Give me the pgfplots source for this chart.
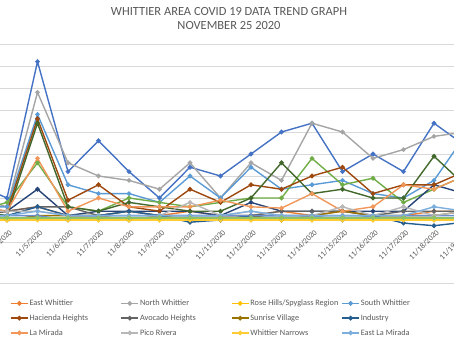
\documentclass[border=0pt]{standalone}
\usepackage{pgfplots}
\pgfplotsset{compat=1.18}
\usepackage{pgfplotstable}
\usepackage{fontspec}
\setmainfont{Carlito}
\definecolor{cA}{HTML}{4472C4}
\definecolor{cEW}{HTML}{ED7D31}
\definecolor{cNW}{HTML}{A5A5A5}
\definecolor{cRH}{HTML}{FFC000}
\definecolor{cSW}{HTML}{5B9BD5}
\definecolor{cG}{HTML}{70AD47}
\definecolor{cNV}{HTML}{264478}
\definecolor{cHH}{HTML}{9E480E}
\definecolor{cAH}{HTML}{636363}
\definecolor{cSV}{HTML}{997300}
\definecolor{cIN}{HTML}{255E91}
\definecolor{cDG}{HTML}{43682B}
\definecolor{cS13}{HTML}{698ED0}
\definecolor{cLM}{HTML}{F1975A}
\definecolor{cPR}{HTML}{B7B7B7}
\definecolor{cWN}{HTML}{FFCD33}
\definecolor{cELM}{HTML}{7CAFDD}
\definecolor{cS18}{HTML}{8CC168}
\definecolor{gridc}{HTML}{D9D9D9}
\definecolor{txt}{HTML}{595959}

\pgfplotstableread{
d  s1 s2 s3 s4  s5 s6  s7 s8  s9 s10 s11  s12  s13 s14 s15 s16 s17 s18
3  8  1  5  0   3  2   1  3   1  1   1    2    1   3   2   0   1   0.5
4  5  2  3  0   3  4   2  2   2  0   1    1    1   2   2   0   1   0.5
5  36 3  29 0.5 24 13  7  23  3  1   3    22   1   14  2   0   2   0.5
6  11 1  13 0   8  3   1  4.5 3  1   1    3    0   2   1   0   1   0.5
7  18 1  10 0   6  2   2  8   1  1   1    2    1   5   1   0   1   0.5
8  11 2  9  0   6  5   2  3   2  0   2    4    1   3   1   0   1   0.5
9  5  1  7  0   4  4   2  2   1  1   1    3    1   3   1   0   1   0.5
10 12 2  13 0   10 3   2  7   1  0   -0.5 2    1   3   4   0   1   0.5
11 10 1  5  0.5 5  4   1  4   1  0   0    2    1   4.5 1   0   1   0.5
12 15 1  13 0   12 5   4  8   1  1   1    5    1   3   2   0   2   0.5
13 20 2  9  0   7  5   2  7   2  0   1    13   1   2.7 1   0   1   0.5
14 22 1  22 0   8  14  2  10  2  1   1    6    1   6   1   0   1   0.5
15 11 2  20 0   9  8   2  12  2  2   1    7    0   2   3   0   1   0.5
16 15 1  14 0   6  9.5 2  6   1  1   1    5    1   3   1   0   1   0.5
17 11 1  16 0   5  4   2  8   2  1   -0.7 5    1   8   3   0   1   0.5
18 22 2  19 0   9  7   8  8   2  1   -1.3 14.5 1   7   1   0   3   0.5
19 17 2  20 0.5 19 10  6  11  2  2   -0.5 8    1   10  2   0   2   0.5
}\data

\pgfplotsset{ser/.style={line width=1.4bp, mark=*, mark size=1.6bp, mark options={solid}}}

\begin{document}
\begin{tikzpicture}
\begin{axis}[
  at={(-38.75bp,99bp)}, anchor=south west,
  scale only axis, width=518.5bp, height=198bp,
  xmin=2.5, xmax=19.5, ymin=-5, ymax=40,
  ytick={-5,0,...,40}, yticklabels={},
  ymajorgrids, grid style={color=gridc, line width=0.75bp},
  axis line style={draw=none}, tick style={draw=none},
  xtick={3,...,19},
  xticklabels={11/3/2020,11/4/2020,11/5/2020,11/6/2020,11/7/2020,11/8/2020,11/9/2020,11/10/2020,11/11/2020,11/12/2020,11/13/2020,11/14/2020,11/15/2020,11/16/2020,11/17/2020,11/18/2020,11/19/2020},
  xticklabel style={yshift=13bp, xshift=1.5bp, rotate=45, anchor=north east, inner sep=0pt, font=\fontsize{8}{9}\selectfont, text=txt},
  legend columns=4,
  legend style={at={(0.094,-0.286)}, anchor=north west, draw=none, fill=none,
    font=\fontsize{8.3}{9}\selectfont, text=txt, inner sep=0pt, column sep=0pt, row sep=5.5bp,
    nodes={inner sep=1bp}},
  legend cell align=left,
]
\addplot[ser, color=cA, forget plot] table[x=d, y=s1] {\data};
\addplot[ser, color=cEW, forget plot] table[x=d, y=s2] {\data};
\addplot[ser, color=cNW, forget plot] table[x=d, y=s3] {\data};
\addplot[ser, color=cRH, forget plot] table[x=d, y=s4] {\data};
\addplot[ser, color=cSW, forget plot] table[x=d, y=s5] {\data};
\addplot[ser, color=cG, forget plot] table[x=d, y=s6] {\data};
\addplot[ser, color=cNV, forget plot] table[x=d, y=s7] {\data};
\addplot[ser, color=cHH, forget plot] table[x=d, y=s8] {\data};
\addplot[ser, color=cAH, forget plot] table[x=d, y=s9] {\data};
\addplot[ser, color=cSV, forget plot] table[x=d, y=s10] {\data};
\addplot[ser, color=cIN, forget plot] table[x=d, y=s11] {\data};
\addplot[ser, color=cDG, forget plot] table[x=d, y=s12] {\data};
\addplot[ser, color=cS13, forget plot] table[x=d, y=s13] {\data};
\addplot[ser, color=cLM, forget plot] table[x=d, y=s14] {\data};
\addplot[ser, color=cPR, forget plot] table[x=d, y=s15] {\data};
\addplot[ser, color=cWN, forget plot] table[x=d, y=s16] {\data};
\addplot[ser, color=cELM, forget plot] table[x=d, y=s17] {\data};
\addplot[ser, color=cS18, forget plot] table[x=d, y=s18] {\data};

\addlegendimage{ser, color=cEW}\addlegendentry{\makebox[90bp][l]{East Whittier}}
\addlegendimage{ser, color=cNW}\addlegendentry{\makebox[90bp][l]{North Whittier}}
\addlegendimage{ser, color=cRH}\addlegendentry{\makebox[90bp][l]{Rose Hills/Spyglass Region}}
\addlegendimage{ser, color=cSW}\addlegendentry{\makebox[90bp][l]{South Whittier}}
\addlegendimage{ser, color=cHH}\addlegendentry{\makebox[90bp][l]{Hacienda Heights}}
\addlegendimage{ser, color=cAH}\addlegendentry{\makebox[90bp][l]{Avocado Heights}}
\addlegendimage{ser, color=cSV}\addlegendentry{\makebox[90bp][l]{Sunrise Village}}
\addlegendimage{ser, color=cIN}\addlegendentry{\makebox[90bp][l]{Industry}}
\addlegendimage{ser, color=cLM}\addlegendentry{\makebox[90bp][l]{La Mirada}}
\addlegendimage{ser, color=cPR}\addlegendentry{\makebox[90bp][l]{Pico Rivera}}
\addlegendimage{ser, color=cWN}\addlegendentry{\makebox[90bp][l]{Whittier Narrows}}
\addlegendimage{ser, color=cELM}\addlegendentry{\makebox[90bp][l]{East La Mirada}}
\end{axis}
\node[font=\fontsize{12.5}{15}\selectfont, text=txt, align=center] at (229bp,322.5bp) {WHITTIER AREA COVID 19 DATA TREND GRAPH\\NOVEMBER 25 2020};
\draw[gridc, line width=0.75bp] (0,58bp) -- (454bp,58bp);
\pgfresetboundingbox
\path (0,0) rectangle (454bp,341bp);
\end{tikzpicture}
\end{document}
